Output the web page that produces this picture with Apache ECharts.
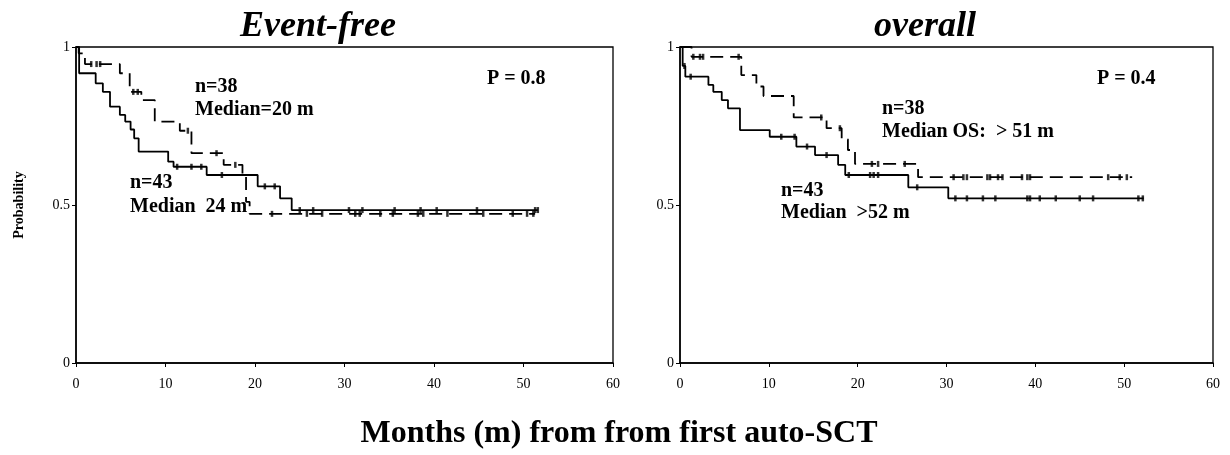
<!DOCTYPE html>
<html>
  <head>
    <meta charset="utf-8" />
    <title>Event-free / overall</title>
    <script src="https://cdn.jsdelivr.net/npm/echarts@6/dist/echarts.min.js"></script>
    <style>
      body { margin: 0; background: #fff; }
      #chart { width: 1230px; height: 455px; }
    </style>
  </head>
  <body>
    <div id="chart"></div>
    <script>
      // step points [month, probability]
      const efsN43 = [[0, 1], [0.35, 0.917], [2.2, 0.885], [3.0, 0.858], [3.8, 0.811], [4.9, 0.785], [5.5, 0.764],
        [6.1, 0.739], [6.5, 0.711], [7.0, 0.669], [10.3, 0.637], [10.9, 0.621], [14.6, 0.595], [20.3, 0.559],
        [22.8, 0.521], [24.1, 0.484], [51.6, 0.484]];
      const efsN38 = [[0, 1], [0.3, 0.98], [1.0, 0.946], [4.9, 0.917], [6.0, 0.858], [7.3, 0.832], [8.8, 0.764],
        [11.6, 0.735], [12.9, 0.664], [16.5, 0.627], [18.6, 0.595], [19.0, 0.51], [19.4, 0.472], [51.3, 0.472]];
      const osN43 = [[0, 1], [0.3, 0.94], [0.6, 0.906], [3.2, 0.88], [3.75, 0.858], [4.7, 0.832], [5.4, 0.806],
        [6.75, 0.737], [10.1, 0.716], [13.1, 0.685], [15.2, 0.658], [17.8, 0.627], [18.6, 0.595], [25.7, 0.556],
        [30.2, 0.521], [52.2, 0.521]];
      const osN38 = [[0, 1], [1.3, 0.969], [6.9, 0.911], [8.6, 0.875], [9.4, 0.845], [12.8, 0.777], [16.5, 0.743],
        [18.2, 0.708], [18.9, 0.674], [19.7, 0.63], [26.8, 0.588], [50.9, 0.588]];

      // censored times (months)
      const efsN43Cens = [11.3, 12.9, 14.0, 16.3, 21.1, 22.2, 25.0, 26.5, 30.5, 32.0, 35.6, 38.5, 40.3, 44.8, 51.3, 51.6];
      const efsN38Cens = [1.7, 2.3, 2.7, 6.4, 6.9, 12.5, 15.7, 17.8, 21.9, 25.8, 27.5, 31.2, 31.7, 34.0, 35.4, 38.2,
        38.8, 41.5, 45.5, 48.8, 50.4, 51.1];
      const osN43Cens = [0.5, 1.2, 11.4, 12.9, 14.3, 16.5, 19.0, 21.4, 21.8, 22.3, 26.7, 31.0, 32.3, 34.1, 35.5,
        39.1, 39.4, 40.5, 42.3, 45.0, 46.5, 51.6, 52.1];
      const osN38Cens = [1.5, 2.25, 2.6, 6.6, 15.9, 18.0, 21.6, 22.3, 25.3, 30.8, 31.9, 32.3, 34.6, 34.9, 35.8, 36.3,
        38.5, 39.1, 39.4, 48.2, 49.5, 50.3];

      const xTicks = [0, 10, 20, 30, 40, 50, 60];
      const yTicks = [0, 0.5, 1];

      // survival level at time t from a step curve
      function levelAt(curve, t) {
        let p = curve[0][1];
        for (const pt of curve) { if (pt[0] <= t) p = pt[1]; }
        return p;
      }
      const cens = (curve, times) => times.map(t => [t, levelAt(curve, t)]);

      const serif = 'Liberation Serif';
      const axisX = i => ({
        type: 'value', gridIndex: i, min: xTicks[0], max: xTicks[xTicks.length - 1], interval: 10,
        axisLine: { lineStyle: { color: '#000', width: 1.5 } },
        axisTick: { lineStyle: { color: '#000' }, length: 4 },
        axisLabel: { color: '#000', fontFamily: serif, fontSize: 14, margin: 14 },
        splitLine: { show: false }
      });
      const axisY = i => ({
        type: 'value', gridIndex: i, min: yTicks[0], max: yTicks[yTicks.length - 1], interval: 0.5,
        axisLine: { show: true, lineStyle: { color: '#000', width: 1.5 } },
        axisTick: { show: true, lineStyle: { color: '#000' }, length: 4 },
        axisLabel: { color: '#000', fontFamily: serif, fontSize: 14, margin: 6 },
        splitLine: { show: false }
      });
      const line = (i, data, dashed) => ({
        type: 'line', xAxisIndex: i, yAxisIndex: i, data: data, step: 'end', symbol: 'none',
        lineStyle: { color: '#000', width: 1.8, type: dashed ? [13, 7] : 'solid' }, animation: false
      });
      const marks = (i, data) => ({
        type: 'scatter', xAxisIndex: i, yAxisIndex: i, data: data, symbol: 'rect', symbolSize: [2.5, 6],
        itemStyle: { color: '#000' }, animation: false
      });
      const note = (x, y, txt) => ({
        type: 'text', left: x, top: y,
        style: { text: txt, fill: '#000', font: 'bold 20px "Liberation Serif"' }
      });

      const chart = echarts.init(document.getElementById('chart'));
      chart.setOption({
        backgroundColor: '#fff',
        title: [
          { text: 'Event-free', left: 313, top: 4, textAlign: 'center',
            textStyle: { fontFamily: serif, fontSize: 36, fontWeight: 'bold', fontStyle: 'italic', color: '#000' } },
          { text: 'overall', left: 920, top: 4, textAlign: 'center',
            textStyle: { fontFamily: serif, fontSize: 36, fontWeight: 'bold', fontStyle: 'italic', color: '#000' } },
          { text: 'Months (m) from from first auto-SCT', left: 614, top: 413, textAlign: 'center',
            textStyle: { fontFamily: serif, fontSize: 32, fontWeight: 'bold', color: '#000' } }
        ],
        grid: [
          { left: 76, top: 47, width: 537, height: 316, show: true, borderColor: '#000', borderWidth: 1.3 },
          { left: 680, top: 47, width: 533, height: 316, show: true, borderColor: '#000', borderWidth: 1.3 }
        ],
        xAxis: [axisX(0), axisX(1)],
        yAxis: [
          Object.assign(axisY(0), {
            name: 'Probability', nameLocation: 'middle', nameRotate: 90, nameGap: 50,
            nameTextStyle: { color: '#000', fontFamily: serif, fontSize: 14, fontWeight: 'bold' }
          }),
          axisY(1)
        ],
        series: [
          line(0, efsN43, false), line(0, efsN38, true),
          line(1, osN43, false), line(1, osN38, true),
          marks(0, cens(efsN43, efsN43Cens)), marks(0, cens(efsN38, efsN38Cens)),
          marks(1, cens(osN43, osN43Cens)), marks(1, cens(osN38, osN38Cens))
        ],
        graphic: [
          note(195, 77, 'n=38'), note(195, 100, 'Median=20 m'), note(487, 69, 'P = 0.8'),
          note(130, 173, 'n=43'), note(130, 197, 'Median  24 m'),
          note(1097, 69, 'P = 0.4'), note(882, 99, 'n=38'), note(882, 122, 'Median OS:  > 51 m'),
          note(781, 181, 'n=43'), note(781, 203, 'Median  >52 m')
        ]
      });
    </script>
  </body>
</html>
